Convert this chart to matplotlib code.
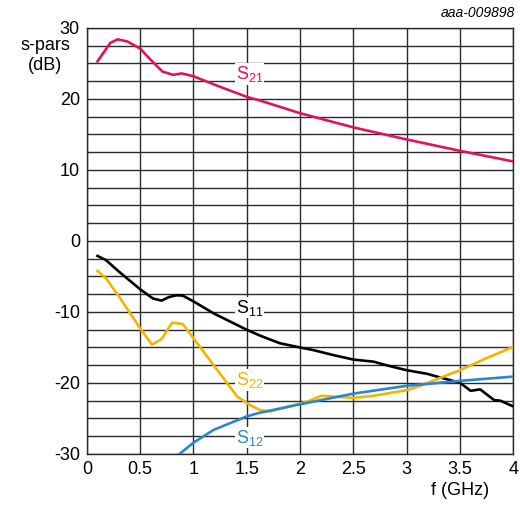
import matplotlib
matplotlib.use("Agg")
import matplotlib.pyplot as plt
from matplotlib.ticker import MultipleLocator

plt.rcParams['font.family'] = ['Liberation Sans', 'DejaVu Sans']
plt.rcParams['axes.unicode_minus'] = False
plt.rcParams['mathtext.fontset'] = 'custom'
plt.rcParams['mathtext.rm'] = 'Liberation Sans'

# data (f in GHz, level in dB)
f_s21 = [0.1, 0.22, 0.29, 0.38, 0.5, 0.6, 0.71, 0.81, 0.89, 1.0, 1.2, 1.5, 1.62, 2.0, 2.5, 3.0, 3.5, 4.0]
s21 = [25.3, 27.9, 28.4, 28.1, 27.1, 25.5, 23.85, 23.4, 23.6, 23.2, 22.0, 20.3, 19.8, 18.0, 16.0, 14.3, 12.7, 11.2]

f_s11 = [0.1, 0.18, 0.3, 0.5, 0.62, 0.7, 0.77, 0.84, 0.9, 1.0, 1.19, 1.5, 1.62, 1.81, 2.0, 2.12,
         2.31, 2.5, 2.69, 2.81, 3.0, 3.19, 3.31, 3.5, 3.6, 3.69, 3.82, 3.88, 4.0]
s11 = [-2.1, -2.7, -4.3, -6.8, -8.1, -8.4, -7.9, -7.65, -7.7, -8.5, -10.2, -12.5, -13.3, -14.4, -15.0, -15.35,
       -16.06, -16.7, -17.0, -17.5, -18.2, -18.7, -19.2, -19.96, -21.1, -20.9, -22.4, -22.5, -23.3]

f_s22 = [0.1, 0.18, 0.3, 0.5, 0.61, 0.7, 0.8, 0.9, 1.0, 1.19, 1.41, 1.53, 1.62, 1.72, 2.0, 2.09,
         2.2, 2.5, 2.69, 2.85, 3.0, 3.13, 3.31, 3.5, 3.75, 4.0]
s22 = [-4.2, -5.25, -7.8, -12.3, -14.6, -13.85, -11.5, -11.7, -13.7, -17.5, -21.9, -23.1, -23.8, -24.0, -22.9, -22.5,
       -21.8, -22.1, -21.8, -21.4, -21.0, -20.4, -19.3, -18.2, -16.5, -14.9]

f_s12 = [0.87, 1.0, 1.19, 1.5, 1.62, 2.0, 2.5, 3.0, 3.5, 4.0]
s12 = [-30.0, -28.4, -26.6, -24.7, -24.2, -23.0, -21.5, -20.4, -19.7, -19.1]

x_ticks = [0, 0.5, 1, 1.5, 2, 2.5, 3, 3.5, 4]
x_labels = ["0", "0.5", "1", "1.5", "2", "2.5", "3", "3.5", "4"]
y_ticks = [-30, -20, -10, 0, 10, 20, 30]

fig = plt.figure(figsize=(5.2, 5.05), dpi=100)
ax = fig.add_axes([0.167, 0.101, 0.82, 0.8436])

ax.plot(f_s21, s21, color="#e0145a", lw=1.9, zorder=3)
ax.plot(f_s11, s11, color="black", lw=1.9, zorder=3)
ax.plot(f_s22, s22, color="#f5b400", lw=1.9, zorder=3)
ax.plot(f_s12, s12, color="#2a86d0", lw=1.9, zorder=3)

box = dict(facecolor="white", edgecolor="none", pad=0.5)
ax.text(1.4, 23.5, "S$_{21}$", color="#e0145a", fontsize=13, va="center", ha="left", bbox=box, zorder=4)
ax.text(1.4, -9.4, "S$_{11}$", color="black", fontsize=13, va="center", ha="left", bbox=box, zorder=4)
ax.text(1.4, -19.6, "S$_{22}$", color="#f5b400", fontsize=13, va="center", ha="left", bbox=box, zorder=4)
ax.text(1.4, -27.7, "S$_{12}$", color="#2a86d0", fontsize=13, va="center", ha="left", bbox=box, zorder=4)

ax.set_xlim(0, 4)
ax.set_ylim(-30, 30)
ax.set_xticks(x_ticks)
ax.set_xticklabels(x_labels)
ax.set_yticks(y_ticks)
ax.yaxis.set_minor_locator(MultipleLocator(2.5))
ax.tick_params(which="both", length=0, labelsize=13, pad=5)
ax.grid(True, which="both", color="#2a2a2a", lw=1.0)
for s in ax.spines.values():
    s.set_color("#2a2a2a")
    s.set_linewidth(1.0)

fig.text(0.087, 0.89, "s-pars\n(dB)", fontsize=13, ha="center", va="center", linespacing=1.25)
fig.text(0.885, 0.028, "f (GHz)", fontsize=13, ha="center", va="center")
fig.text(0.99, 0.975, "aaa-009898", fontsize=10, style="italic", ha="right", va="center")

fig.savefig("out.png", dpi=100)
